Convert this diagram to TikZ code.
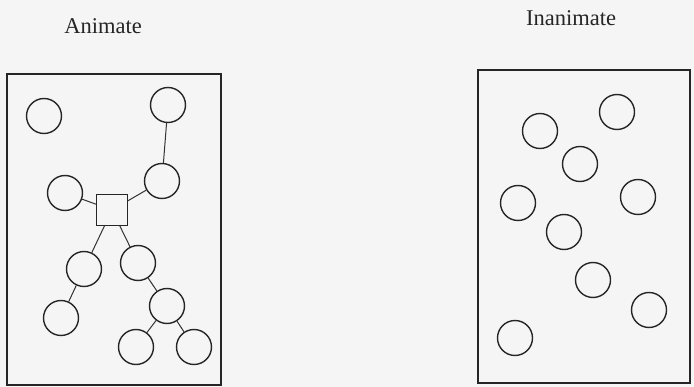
\documentclass[tikz,border=0pt]{standalone}
\usepackage{fontspec}
\setmainfont{Liberation Serif}
\begin{document}
\begin{tikzpicture}[x=1pt,y=-1pt,
  ent/.style={draw=black!85,circle,minimum size=35pt,inner sep=0pt,line width=1.4pt},
  hub/.style={draw=black!85,rectangle,minimum size=31pt,inner sep=0pt,line width=1.1pt},
  link/.style={draw=black!80,line width=1pt},
  frame/.style={draw=black!85,line width=2.3pt},
  lbl/.style={font=\fontsize{22.5}{26}\selectfont,text=black!85}]
\fill[white!96!black] (0,0) rectangle (694,387);
\useasboundingbox (0,0) rectangle (694,387);
% labels
\node[lbl] (la) at (103,26) {Animate};
\node[lbl] (li) at (571,18) {Inanimate};
% frames
\draw[frame] (7,74) rectangle (221,385);
\draw[frame] (478,70) rectangle (690,383);
% animate
\node[ent] (a1) at (44,116) {};
\node[ent] (a2) at (168,105) {};
\node[ent] (a3) at (162,181) {};
\node[ent] (a4) at (65,193) {};
\node[hub] (sq) at (112,210) {};
\node[ent] (a5) at (84,269) {};
\node[ent] (a6) at (61,318) {};
\node[ent] (a7) at (138,263) {};
\node[ent] (a8) at (167,306) {};
\node[ent] (a9) at (136,347) {};
\node[ent] (a10) at (194,347) {};
\draw[link] (a2) -- (a3);
\draw[link] (a3) -- (sq);
\draw[link] (a4) -- (sq);
\draw[link] (sq) -- (a5);
\draw[link] (a5) -- (a6);
\draw[link] (sq) -- (a7);
\draw[link] (a7) -- (a8);
\draw[link] (a8) -- (a9);
\draw[link] (a8) -- (a10);
% inanimate
\node[ent] (b1) at (540,131) {};
\node[ent] (b2) at (617,112) {};
\node[ent] (b3) at (580,164) {};
\node[ent] (b4) at (518,203) {};
\node[ent] (b5) at (638,197) {};
\node[ent] (b6) at (564,232) {};
\node[ent] (b7) at (593,280) {};
\node[ent] (b8) at (649,310) {};
\node[ent] (b9) at (515,338) {};
\end{tikzpicture}
\end{document}
